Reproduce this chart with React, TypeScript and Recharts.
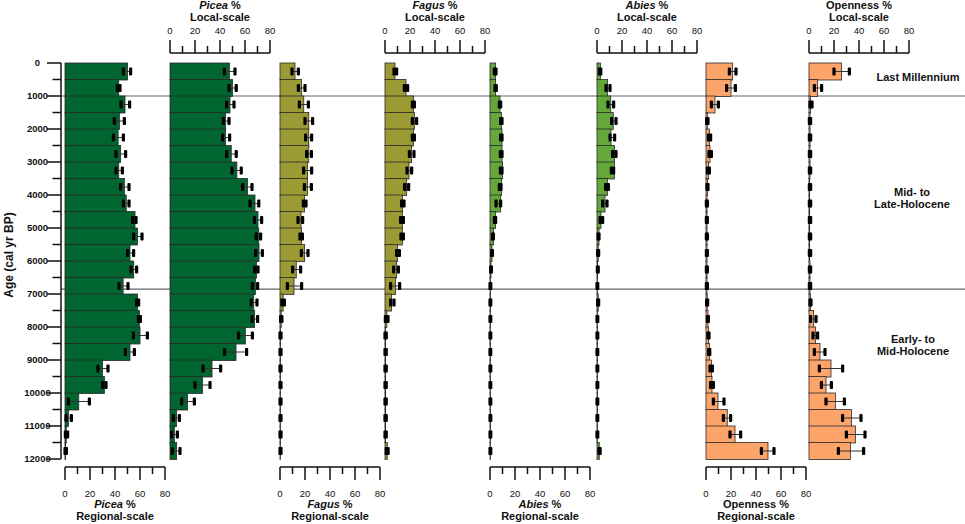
import React from 'react';
import { BarChart, Bar, XAxis, YAxis, ReferenceLine } from 'recharts';

// 500-year bins, plotted at their mid-points (cal yr BP)
const AGE_BINS = [
  250, 750, 1250, 1750, 2250, 2750, 3250, 3750, 4250, 4750, 5250, 5750,
  6250, 6750, 7250, 7750, 8250, 8750, 9250, 9750, 10250, 10750, 11250, 11750,
];
const AGE_TICKS = [
  0, 500, 1000, 1500, 2000, 2500, 3000, 3500, 4000, 4500, 5000, 5500, 6000,
  6500, 7000, 7500, 8000, 8500, 9000, 9500, 10000, 10500, 11000, 11500, 12000,
];
const PCT_TICKS = [0, 10, 20, 30, 40, 50, 60, 70, 80];
const ZONE_BOUNDARIES = [1000, 6850];

// Picea
const piceaRegional = [50, 43, 48, 43.5, 42.5, 44.5, 43, 47.5, 49, 56, 58, 52, 55, 46.5, 58, 59.5, 60, 52, 30, 31.5, 11, 2.7, 1, 0.5];
const piceaRegionalLow = [46.7, 41.9, 44.8, 39.5, 38.7, 40.8, 40.8, 44.5, 46.7, 54.1, 54.9, 50.1, 52.8, 43.2, 57.3, 58.7, 54.7, 48.3, 26.4, 30.1, 2.7, 0.8, 0.3, 0];
const piceaRegionalHigh = [52.5, 44, 51.7, 47.5, 46.7, 48.5, 45.9, 51.2, 51.2, 56.8, 61.6, 54.9, 57.3, 50.4, 58.9, 60.3, 65.9, 55.5, 34.4, 32.8, 19.5, 5.1, 2.1, 1.1];
const piceaLocal = [47.5, 50, 48, 44.5, 44.5, 49, 53.5, 62, 68, 70.4, 71, 71.2, 69.3, 68.3, 67, 67.7, 60.3, 52.8, 33.6, 26, 14, 5.3, 3.5, 5.3];
const piceaLocalLow = [43.5, 47.2, 45.3, 42.7, 42.1, 45.3, 49.6, 58.1, 64, 67.5, 69, 68.5, 67.7, 65.9, 65, 65.6, 54.9, 43.7, 26.4, 20, 9.3, 2.7, 1.3, 1.9];
const piceaLocalHigh = [52, 53, 51.2, 47.2, 47.7, 53, 57, 65.6, 71, 73.3, 72.5, 73.9, 70.4, 70.1, 69.6, 70.1, 65.9, 61.3, 40.5, 32, 19.5, 7.5, 5.9, 8];

// Fagus
const fagusRegional = [12, 17.3, 19, 23, 23, 23, 22, 22, 19.7, 16.8, 17.3, 19.7, 13, 11.2, 2.5, 1, 0.4, 0.4, 0.3, 0.3, 0.3, 0.3, 0.3, 0.3];
const fagusRegionalLow = [9.6, 14.7, 15.5, 20, 20.5, 21.3, 18.9, 19.5, 18.7, 14.4, 16, 17.1, 10.1, 5.9, 1.5, 0.5, 0, 0, 0, 0, 0, 0, 0, 0];
const fagusRegionalHigh = [14.7, 20, 22.7, 26.1, 25.3, 25.1, 25.3, 25.1, 20.8, 18.1, 17.9, 22.4, 16.5, 17.3, 3.5, 1.5, 0.8, 0.8, 0.8, 0.8, 0.8, 0.8, 0.8, 0.8];
const fagusLocal = [8, 16.8, 22.9, 23.5, 22.7, 21.3, 19.2, 17.3, 14.1, 13.9, 13.9, 10.1, 9.3, 8.5, 5.3, 1.5, 0.5, 0.5, 0.5, 0.5, 0.5, 0.5, 0.5, 1.8];
const fagusLocalLow = [7.2, 15.5, 21.9, 21.9, 21.9, 19.5, 17.6, 15.7, 13.3, 12.5, 12.8, 9.3, 6.9, 4.5, 4.5, 0.3, 0, 0, 0, 0, 0, 0, 0, 1];
const fagusLocalHigh = [9.3, 18.1, 23.5, 25.3, 23.5, 23.2, 21.3, 18.9, 15.2, 14.7, 14.7, 11.5, 10.7, 11.7, 7.2, 2.4, 1, 1, 1, 1, 1, 1, 1, 2.5];

// Abies
const abiesRegional = [4.5, 4.5, 8, 9.1, 9.6, 9.6, 10.1, 9.3, 8.5, 4.5, 2.7, 1.6, 0.8, 0.3, 0.3, 0.3, 0.3, 0.3, 0.3, 0.3, 0.3, 0.3, 0.3, 0.3];
const abiesRegionalLow = [3.5, 4, 7.5, 8.5, 8.5, 8.3, 8.3, 7.5, 4.8, 3.5, 2, 1.3, 0.5, 0, 0, 0, 0, 0, 0, 0, 0, 0, 0, 0];
const abiesRegionalHigh = [4.8, 5, 8.5, 9.6, 9.6, 9.6, 9.6, 8.8, 8.5, 4.5, 2.7, 1.9, 1.1, 0.6, 0.6, 0.6, 0.6, 0.6, 0.6, 0.6, 0.6, 0.6, 0.6, 0.6];
const abiesLocal = [2.7, 8.5, 11, 13, 11.2, 13.9, 13.9, 8.3, 6.4, 3.2, 1.6, 1, 0.5, 0.4, 1, 0.4, 0.4, 0.4, 0.4, 0.4, 0.4, 0.4, 0.4, 1.8];
const abiesLocalLow = [1.9, 7.2, 8.8, 11.7, 10.4, 12.5, 11.5, 6.9, 4.5, 2.4, 0.8, 0.5, 0.3, 0, 0.5, 0, 0, 0, 0, 0, 0, 0, 0, 1.5];
const abiesLocalHigh = [3, 10.4, 13.3, 15.2, 14.1, 15.2, 13.3, 9.1, 8, 4.5, 1.6, 1.3, 1, 0.6, 1.3, 0.6, 0.6, 0.6, 0.6, 0.6, 0.6, 0.6, 0.6, 2.5];

// Openness
const opennessRegional = [21.3, 20, 7.2, 1.1, 2.7, 3.2, 2.1, 1.3, 0.8, 0.8, 0.8, 0.8, 0.8, 0.8, 1, 1.6, 2.1, 2.7, 4.3, 4.8, 9.6, 17, 23.2, 49.6];
const opennessRegionalLow = [18.7, 16.5, 4.3, 0.5, 1.9, 2.4, 1.1, 0.8, 0.3, 0.3, 0.3, 0.3, 0.3, 0.3, 0.5, 1.1, 1.5, 2.1, 3.2, 3.7, 5.9, 13.9, 19.2, 44.3];
const opennessRegionalHigh = [24, 23.5, 9.9, 1.6, 3.7, 4.3, 2.7, 1.6, 1.1, 1.1, 1.1, 1.1, 1.1, 1.1, 1.3, 1.9, 2.4, 3, 5.1, 5.9, 14.4, 19.7, 27.7, 54.4];
const opennessLocal = [26.1, 6.9, 1.3, 0.8, 0.8, 0.8, 0.8, 0.5, 0.5, 0.5, 0.5, 0.5, 0.8, 0.8, 1.3, 3.7, 5.3, 8.8, 17.6, 13.6, 21.1, 34, 37.1, 33.1];
const opennessLocalLow = [20, 4.3, 0.8, 0.3, 0.3, 0.3, 0.3, 0.3, 0.3, 0.3, 0.3, 0.3, 0.3, 0.3, 0.8, 1.3, 3.2, 4.3, 8.3, 9.9, 13.6, 26.9, 29.9, 23.5];
const opennessLocalHigh = [32.3, 10.1, 2.4, 1.3, 1.3, 1.3, 1.3, 1.3, 1.3, 1.3, 1.3, 1.3, 1.3, 1.3, 1.6, 5.6, 6.9, 12.8, 26.9, 17.9, 28.3, 41.6, 44.8, 43.7];

const FONT = '"Liberation Sans", Arial, sans-serif';
const INK = '#111';

// layout (px, page coordinates)
const W = 965;
const H = 524;
const AGE0_Y = 63;
const AGE12K_Y = 459;
const TOP_AXIS_Y = 53;
const BOTTOM_AXIS_Y = 467;
const PLOT_W = 100;
const SIDE = 12;

const PANELS = [
  { taxon: 'Picea', italic: true, scale: 'Regional', color: '#00652f', values: piceaRegional, low: piceaRegionalLow, high: piceaRegionalHigh, origin: 65 },
  { taxon: 'Picea', italic: true, scale: 'Local', color: '#00652f', values: piceaLocal, low: piceaLocalLow, high: piceaLocalHigh, origin: 170 },
  { taxon: 'Fagus', italic: true, scale: 'Regional', color: '#9c9a33', values: fagusRegional, low: fagusRegionalLow, high: fagusRegionalHigh, origin: 280 },
  { taxon: 'Fagus', italic: true, scale: 'Local', color: '#9c9a33', values: fagusLocal, low: fagusLocalLow, high: fagusLocalHigh, origin: 385 },
  { taxon: 'Abies', italic: true, scale: 'Regional', color: '#64a83c', values: abiesRegional, low: abiesRegionalLow, high: abiesRegionalHigh, origin: 490 },
  { taxon: 'Abies', italic: true, scale: 'Local', color: '#64a83c', values: abiesLocal, low: abiesLocalLow, high: abiesLocalHigh, origin: 597 },
  { taxon: 'Openness', italic: false, scale: 'Regional', color: '#fda46b', values: opennessRegional, low: opennessRegionalLow, high: opennessRegionalHigh, origin: 706 },
  { taxon: 'Openness', italic: false, scale: 'Local', color: '#fda46b', values: opennessLocal, low: opennessLocalLow, high: opennessLocalHigh, origin: 809 },
];

// bar + horizontal error whisker with heavy black end marks
const BarWithError = (props: any) => {
  const { x, y, width, height, payload, color } = props;
  const pxPerUnit = payload.value > 0 ? width / payload.value : 0;
  const cy = y + height / 2;
  const lo = x + payload.low * pxPerUnit;
  const hi = x + payload.high * pxPerUnit;
  return (
    <g>
      <rect x={x} y={y} width={Math.max(width, 0.4)} height={height} fill={color} stroke="#2a2a2a" strokeWidth={0.8} />
      <line x1={lo} x2={hi} y1={cy} y2={cy} stroke="#333" strokeWidth={1} />
      <rect x={lo - 1.6} y={cy - 4} width={3.2} height={8} rx={1} fill="#000" />
      <rect x={hi - 1.6} y={cy - 4} width={3.2} height={8} rx={1} fill="#000" />
    </g>
  );
};

const PctTick = (props: any) => {
  const { x, y, payload, top } = props;
  const v = payload.value;
  const major = v % 20 === 0;
  const dir = top ? -1 : 1;
  return (
    <g>
      <line x1={x} x2={x} y1={y} y2={y + dir * (major ? 13 : 7)} stroke={INK} strokeWidth={1.5} />
      {major && (
        <text x={x} y={top ? y - 19.5 : y + 29.5} textAnchor="middle" fontSize={9.5} fontFamily={FONT} fill={INK}>
          {v}
        </text>
      )}
    </g>
  );
};

const AgeTick = (props: any) => {
  const { x, y, payload } = props;
  const major = payload.value % 1000 === 0;
  return (
    <g>
      <line x1={x - (major ? 14 : 8.5)} x2={x} y1={y} y2={y} stroke={INK} strokeWidth={1.5} />
      {major && (
        <text x={x - 23.5} y={y} dy="0.35em" textAnchor="middle" fontSize={9.5} fontWeight="bold" fontFamily={FONT} fill={INK}>
          {payload.value}
        </text>
      )}
    </g>
  );
};

const Panel = ({ panel }: { panel: (typeof PANELS)[number] }) => {
  const isLocal = panel.scale === 'Local';
  const rows = AGE_BINS.map((age, i) => ({ age, value: panel.values[i], low: panel.low[i], high: panel.high[i] }));
  return (
    <div style={{ position: 'absolute', left: panel.origin - SIDE, top: 0, width: PLOT_W + 2 * SIDE, height: H }}>
      <BarChart
        layout="vertical"
        width={PLOT_W + 2 * SIDE}
        height={H}
        data={rows}
        barCategoryGap={0}
        margin={{ top: isLocal ? 0 : TOP_AXIS_Y, bottom: isLocal ? H - BOTTOM_AXIS_Y : 0, left: SIDE, right: SIDE }}
      >
        <XAxis
          type="number"
          domain={[0, 80]}
          ticks={PCT_TICKS}
          interval={0}
          orientation={isLocal ? 'top' : 'bottom'}
          height={isLocal ? TOP_AXIS_Y : H - BOTTOM_AXIS_Y}
          tickSize={0}
          tickMargin={0}
          tickLine={false}
          axisLine={{ stroke: INK, strokeWidth: 1.5 }}
          tick={(p: any) => <PctTick {...p} top={isLocal} />}
        />
        <YAxis
          type="number"
          dataKey="age"
          domain={[0, 12000]}
          hide
          padding={{ top: AGE0_Y - TOP_AXIS_Y, bottom: BOTTOM_AXIS_Y - AGE12K_Y }}
        />
        <Bar
          dataKey="value"
          fill={panel.color}
          isAnimationActive={false}
          shape={(p: any) => <BarWithError {...p} color={panel.color} />}
        />
      </BarChart>
      <div
        style={{
          position: 'absolute',
          left: 0,
          width: PLOT_W + 2 * SIDE,
          top: isLocal ? 0 : 499,
          textAlign: 'center',
          fontFamily: FONT,
          fontWeight: 'bold',
          fontSize: 11,
          lineHeight: '11.5px',
          color: INK,
          whiteSpace: 'nowrap',
        }}
      >
        <div>
          <span style={{ fontStyle: panel.italic ? 'italic' : 'normal' }}>{panel.taxon}</span> %
        </div>
        <div>{panel.scale}-scale</div>
      </div>
    </div>
  );
};

const zoneLabel: React.CSSProperties = {
  position: 'absolute',
  transform: 'translate(-50%, -50%)',
  textAlign: 'center',
  fontFamily: FONT,
  fontWeight: 'bold',
  fontSize: 11,
  lineHeight: '12px',
  color: INK,
  whiteSpace: 'nowrap',
};

export default function App() {
  const baseRows = AGE_BINS.map((age) => ({ age, none: 0 }));
  return (
    <div style={{ position: 'absolute', left: 0, top: 0, width: W, height: H, background: '#fff' }}>
      {/* age axis + zone boundaries across the whole diagram */}
      <div style={{ position: 'absolute', left: 0, top: 0 }}>
        <BarChart layout="vertical" width={W} height={H} data={baseRows} margin={{ top: AGE0_Y, bottom: H - AGE12K_Y, left: 0, right: 0 }}>
          <XAxis type="number" domain={[0, 80]} hide />
          <YAxis
            type="number"
            dataKey="age"
            domain={[0, 12000]}
            ticks={AGE_TICKS}
            interval={0}
            width={61}
            tickSize={0}
            tickMargin={0}
            tickLine={false}
            axisLine={{ stroke: INK, strokeWidth: 1.5 }}
            tick={AgeTick}
          />
          <Bar dataKey="none" fill="none" isAnimationActive={false} />
          {ZONE_BOUNDARIES.map((a) => (
            <ReferenceLine key={a} y={a} stroke="#666" strokeWidth={1.2} ifOverflow="extendDomain" />
          ))}
        </BarChart>
      </div>

      {PANELS.map((p) => (
        <Panel key={p.taxon + p.scale} panel={p} />
      ))}

      <div
        style={{
          position: 'absolute',
          left: 9,
          top: 255,
          transform: 'translate(-50%, -50%) rotate(-90deg)',
          fontFamily: FONT,
          fontWeight: 'bold',
          fontSize: 12,
          color: INK,
          whiteSpace: 'nowrap',
        }}
      >
        Age (cal yr BP)
      </div>

      <div style={{ ...zoneLabel, left: 918, top: 77 }}>Last Millennium</div>
      <div style={{ ...zoneLabel, left: 912, top: 198 }}>
        Mid- to
        <br />
        Late-Holocene
      </div>
      <div style={{ ...zoneLabel, left: 913, top: 345 }}>
        Early- to
        <br />
        Mid-Holocene
      </div>
    </div>
  );
}
